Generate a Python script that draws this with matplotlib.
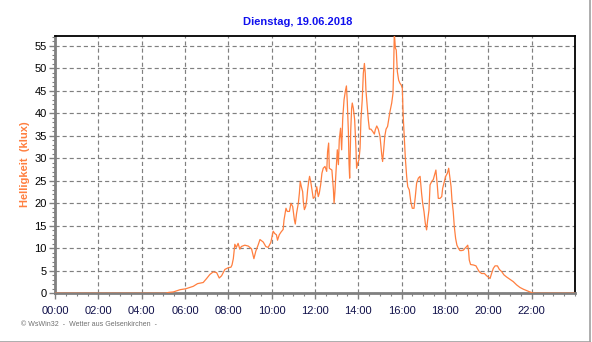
import matplotlib
matplotlib.use('Agg')
from matplotlib import pyplot as plt
from matplotlib.lines import Line2D
from matplotlib.ticker import MultipleLocator
import numpy as np

plt.rcParams['font.family'] = ['Liberation Sans', 'DejaVu Sans']

# Time of day (hours) and brightness (klux)
hours = [0.0, 5.1, 5.25, 5.46, 5.77, 6.03, 6.38, 6.58, 6.84, 7.0, 7.15, 7.3, 7.46, 7.58,
         7.69, 7.84, 8.0, 8.12, 8.17, 8.23, 8.3, 8.37, 8.45, 8.53, 8.6, 8.76, 8.92, 9.07,
         9.18, 9.27, 9.38, 9.46, 9.61, 9.73, 9.84, 9.96, 10.07, 10.14, 10.22, 10.27, 10.35,
         10.43, 10.53, 10.57, 10.66, 10.72, 10.82, 10.89, 10.97, 11.05, 11.09, 11.15, 11.23,
         11.28, 11.32, 11.37, 11.43, 11.46, 11.51, 11.57, 11.62, 11.66, 11.71, 11.75, 11.8,
         11.86, 11.92, 12.0, 12.08, 12.15, 12.2, 12.26, 12.32, 12.38, 12.46, 12.54, 12.58,
         12.63, 12.66, 12.72, 12.78, 12.85, 12.88, 12.92, 12.97, 13.03, 13.08, 13.12, 13.18,
         13.23, 13.28, 13.34, 13.4, 13.45, 13.49, 13.54, 13.57, 13.6, 13.65, 13.69, 13.72,
         13.77, 13.83, 13.89, 13.92, 13.97, 14.03, 14.08, 14.12, 14.18, 14.23, 14.28, 14.32,
         14.35, 14.42, 14.46, 14.51, 14.58, 14.66, 14.74, 14.78, 14.85, 14.92, 15.0, 15.08,
         15.12, 15.17, 15.22, 15.28, 15.35, 15.4, 15.46, 15.54, 15.6, 15.63, 15.66, 15.71,
         15.75, 15.8, 15.86, 15.92, 15.98, 16.03, 16.06, 16.08, 16.12, 16.17, 16.23, 16.28,
         16.35, 16.42, 16.49, 16.57, 16.63, 16.69, 16.77, 16.85, 16.92, 16.97, 17.03, 17.09,
         17.15, 17.2, 17.26, 17.31, 17.38, 17.46, 17.54, 17.58, 17.65, 17.69, 17.77, 17.85,
         17.89, 17.97, 18.03, 18.11, 18.17, 18.22, 18.28, 18.32, 18.38, 18.43, 18.49, 18.55,
         18.62, 18.69, 18.77, 18.85, 18.92, 19.0, 19.05, 19.09, 19.12, 19.18, 19.31, 19.43,
         19.49, 19.58, 19.69, 19.82, 19.92, 20.0, 20.08, 20.15, 20.23, 20.31, 20.42, 20.51,
         20.62, 20.72, 20.85, 21.0, 21.15, 21.31, 21.46, 21.62, 21.77, 21.92, 22.05, 22.15,
         24.0]
klux = [0, 0, 0.2, 0.3, 0.8, 1.0, 1.55, 2.15, 2.4, 3.3, 4.2, 4.75, 4.6, 3.4,
        3.9, 5.3, 5.7, 5.8, 6.3, 7.7, 10.9, 10.2, 11.1, 9.8, 10.4, 10.7, 10.5, 9.9,
        7.7, 9.4, 10.8, 11.95, 11.4, 10.4, 10.2, 11.3, 13.8, 13.3, 13.0, 11.8, 13.0,
        13.6, 14.2, 16.3, 18.9, 18.2, 18.2, 20.0, 19.3, 16.3, 15.4, 17.8, 20.0,
        22.3, 24.9, 23.7, 22.6, 20.4, 18.6, 19.3, 20.8, 23.0, 24.9, 26.0, 24.9,
        23.0, 21.1, 21.5, 23.7, 21.5, 22.3, 24.1, 26.7, 27.8, 28.2, 27.1, 31.5,
        33.4, 27.8, 27.6, 27.4, 23.0, 20.0, 22.6, 27.1, 31.9, 28.6, 34.1, 36.7,
        31.9, 38.9, 43.0, 44.9, 46.1, 42.6, 36.0, 28.9, 25.6, 36.3, 41.1, 42.3,
        41.1, 38.6, 32.3, 27.8, 28.9, 29.7, 32.3, 38.6, 43.0, 48.9, 51.1, 48.9,
        45.2, 41.1, 38.6, 36.5, 36.5, 36.0, 35.4, 36.3, 37.2, 36.5, 34.9, 30.8,
        29.3, 31.9, 34.9, 36.5, 37.1, 38.6, 40.4, 42.3, 44.5, 49.7, 58.0, 54.5,
        54.1, 49.3, 47.4, 46.7, 46.3, 45.6, 40.8, 38.5, 34.8, 30.0, 26.0, 23.7,
        23.0, 20.4, 18.9, 18.9, 21.5, 24.5, 25.6, 26.0, 22.2, 20.0, 18.2, 15.6,
        14.1, 16.3, 18.5, 24.1, 24.8, 25.3, 26.7, 27.4, 23.7, 21.1, 21.1, 21.5,
        23.3, 24.8, 26.0, 26.7, 27.8, 26.0, 23.7, 20.8, 18.2, 14.8, 12.2, 10.7,
        10.0, 9.5, 9.5, 9.6, 10.0, 10.4, 10.7, 9.3, 7.4, 6.4, 6.3, 6.1,
        5.55, 4.8, 4.4, 4.4, 3.9, 3.6, 3.3, 4.4, 5.55, 6.1, 6.1, 5.3,
        4.8, 4.1, 3.6, 3.1, 2.6, 1.85, 1.3, 0.9, 0.6, 0.3, 0.07, 0,
        0]

x_ticks = np.arange(0, 24, 2)
x_labels = ['%02d:00' % h for h in x_ticks]
y_ticks = np.arange(0, 56, 5)

title = 'Dienstag, 19.06.2018'
ylabel = 'Helligkeit  (klux)'
footer = '\u00a9 WsWin32  -  Wetter aus Gelsenkirchen  -'

fig = plt.figure(figsize=(5.92, 3.42), dpi=100)
ax = fig.add_axes([55 / 592, 48.7 / 342, 520 / 592, 257.3 / 342])

ax.plot(hours, klux, color='#ff7f3f', linewidth=0.9, zorder=3, clip_on=True)

ax.set_xlim(0, 24)
ax.set_ylim(0, 57.2)
ax.set_xticks(x_ticks)
ax.set_xticklabels(x_labels)
ax.set_yticks(y_ticks)
ax.xaxis.set_minor_locator(MultipleLocator(0.5))
ax.yaxis.set_minor_locator(MultipleLocator(1))

ax.grid(True, which='major', color='#808080', linestyle=(0, (3.5, 2.5)), linewidth=0.85)
ax.set_axisbelow(True)

ax.tick_params(axis='both', which='major', labelsize=8, color='#808080', length=4, width=1, pad=2)
ax.tick_params(axis='both', which='minor', color='#808080', length=2, width=0.8)
ax.tick_params(axis='x', which='major', labelcolor='#10104a', length=4, pad=5)

for side in ['left', 'bottom']:
    ax.spines[side].set_color('#808080')
    ax.spines[side].set_linewidth(2)
for side in ['top', 'right']:
    ax.spines[side].set_color('black')
    ax.spines[side].set_linewidth(1.3)

ax.set_ylabel(ylabel, color='#ff7f3f', fontsize=8, fontweight='bold')
ax.yaxis.set_label_coords((30 - 55) / 520, 0.5)
fig.text(298 / 592, 1 - 22 / 342, title, color='#1010ee', fontsize=8, fontweight='bold',
         ha='center', va='center')
fig.text(21 / 592, 1 - 325 / 342, footer, color='#707070', fontsize=5, ha='left', va='center')

# light frame at right and bottom edge
fig.add_artist(Line2D([0, 590 / 592], [0.5 / 342, 0.5 / 342], color='#a0a0a0', linewidth=1.2))
fig.add_artist(Line2D([590 / 592, 590 / 592], [0, 1], color='#a0a0a0', linewidth=1.2))

fig.savefig('out.png', dpi=100)
